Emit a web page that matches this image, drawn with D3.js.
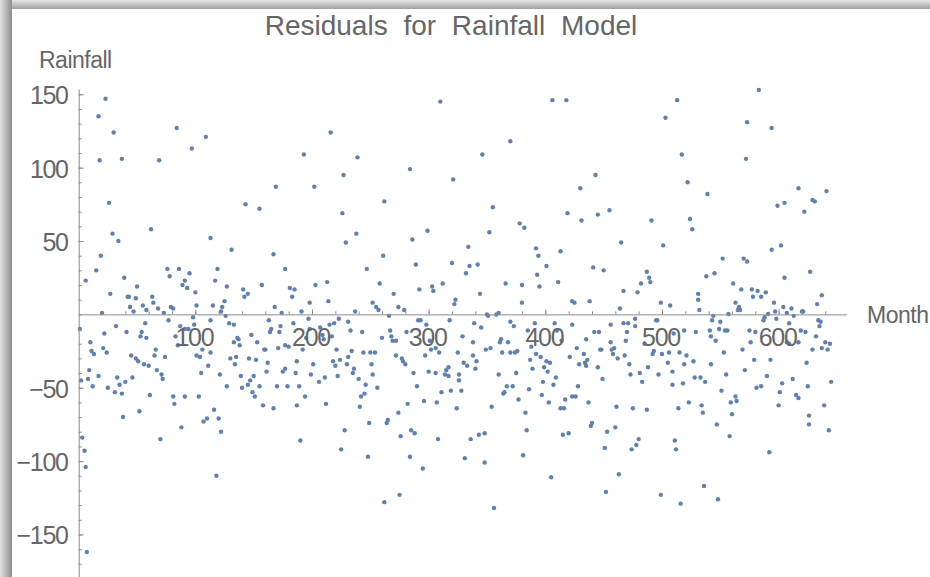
<!DOCTYPE html>
<html>
<head>
<meta charset="utf-8">
<script src="https://cdn.jsdelivr.net/npm/d3@7"></script>
<style>
  body { margin: 0; background: #fff; }
  text { font-family: "Liberation Sans", Arial, sans-serif; fill: #666; }
</style>
</head>
<body>
<svg id="chart" width="930" height="577"></svg>
<script>
// [month, residual]
const residualData = [
  [23,147],[17,135],[30,124],[84,127],[109,121],[97,113],[18,105],[37,106],[69,105],[26,76],[29,55],[34,50],[62,58],[113,52],[19,40],[15,30],[6,23],[39,25],[76,31],[78,26],[86,31],[95,28],[91,23],[89,20],[93,18],[119,31],[117,23],[127,19],[27,14],[50,19],[42,12],[43,12],[49,11],[63,12],[64,8],[44,5],[55,6],[47,2],[58,3],[68,4],[73,1],[79,5],[81,4],[100,15],[101,6],[115,6],[125,9],[123,5],[122,2],[20,1],
  [1,-10],[22,-13],[32,-8],[41,-12],[57,-6],[53,-15],[54,-12],[58,-16],[77,-4],[87,-8],[91,-10],[94,-10],[99,-7],[98,-2],[113,-4],[126,-1],[10,-19],[11,-25],[13,-27],[21,-23],[24,-26],[45,-28],[49,-30],[51,-32],[56,-34],[60,-35],[66,-24],[65,-28],[74,-29],[85,-21],[83,-15],[101,-28],[104,-29],[106,-24],[113,-26],[111,-35],[105,-40],[9,-38],[2,-45],[8,-44],[12,-49],[17,-42],[25,-50],[33,-43],[35,-48],[31,-53],[37,-54],[40,-46],[46,-43],[67,-38],[71,-41],[72,-44],[61,-55],[52,-66],[38,-70],[81,-56],[82,-61],[91,-56],[103,-56],[88,-77],[116,-65],[110,-71],[107,-73],[120,-71],[122,-80],[121,-41],[127,-49],[70,-85],[3,-84],[5,-93],[6,-104],[118,-110],[7,-162],
  [216,124],[193,109],[239,107],[227,95],[169,87],[202,87],[143,75],[155,72],[226,69],[238,55],[229,49],[131,44],[167,41],[177,31],[247,31],[141,17],[145,14],[142,12],[157,20],[181,18],[185,17],[183,12],[203,20],[213,22],[214,9],[198,8],[168,5],[174,1],[191,2],[237,2],[252,8],[255,5],[257,3],[258,21],
  [129,-6],[133,-7],[163,-4],[197,-3],[165,-10],[164,-12],[173,-8],[172,-12],[184,-6],[148,-14],[136,-16],[137,-17],[133,-19],[138,-21],[153,-19],[159,-24],[160,-24],[171,-23],[177,-21],[180,-22],[192,-24],[198,-10],[195,-16],[207,-9],[209,-14],[210,-17],[215,-7],[219,-6],[223,-3],[217,-15],[231,-5],[233,-11],[243,-12],[130,-30],[135,-29],[134,-34],[146,-30],[152,-31],[162,-33],[161,-39],[175,-39],[177,-37],[187,-32],[186,-40],[201,-34],[199,-41],[218,-32],[220,-35],[221,-24],[224,-31],[231,-29],[230,-34],[234,-25],[236,-37],[235,-40],[244,-26],[250,-26],[254,-26],[251,-34],[252,-41],[139,-42],[140,-50],[145,-48],[147,-45],[150,-42],[149,-53],[151,-56],[155,-49],[158,-62],[167,-64],[170,-49],[179,-49],[189,-49],[194,-56],[187,-62],[206,-46],[211,-43],[212,-61],[222,-42],[240,-44],[246,-48],[245,-54],[242,-56],[241,-63],[256,-50],[249,-74],[228,-79],[225,-92],[248,-97],[190,-86],
  [310,145],[370,118],[346,109],[284,99],[321,92],[262,77],[355,73],[378,62],[382,59],[299,57],[352,56],[286,51],[334,46],[261,40],[289,34],[320,35],[335,33],[342,34],[332,28],[270,14],[292,17],[303,19],[304,16],[312,21],[344,14],[366,21],[380,20],[323,10],[322,7],[274,5],[279,3],[380,8],[360,1],
  [266,-1],[291,-4],[293,-4],[298,-7],[318,-4],[339,-6],[345,-9],[350,-0.1],[351,-1],[358,-0.1],[370,-5],[373,-8],[385,-11],[267,-11],[260,-16],[268,-15],[269,-18],[272,-18],[281,-12],[301,-18],[302,-24],[306,-23],[309,-26],[297,-28],[272,-28],[277,-30],[278,-32],[280,-34],[287,-40],[300,-39],[306,-40],[314,-41],[315,-38],[317,-36],[317,-42],[329,-15],[325,-26],[330,-33],[333,-35],[338,-19],[338,-28],[341,-32],[340,-37],[326,-41],[326,-45],[349,-24],[353,-23],[361,-19],[362,-17],[368,-19],[363,-26],[370,-26],[374,-26],[376,-25],[360,-41],[375,-40],[387,-31],[388,-22],[389,-37],[290,-49],[296,-59],[282,-61],[274,-67],[265,-72],[264,-74],[276,-83],[285,-79],[288,-81],[307,-60],[311,-53],[319,-52],[328,-52],[324,-64],[308,-85],[284,-97],[295,-105],[336,-85],[331,-98],[343,-82],[348,-81],[348,-101],[354,-63],[364,-54],[365,-53],[367,-49],[372,-49],[377,-58],[386,-51],[383,-67],[384,-79],[381,-96],[262,-128],[275,-123],[356,-132],
  [406,146],[418,146],[513,146],[503,134],[517,109],[443,95],[430,86],[419,69],[431,64],[445,68],[455,71],[491,64],[465,49],[501,47],[392,45],[394,40],[413,43],[401,33],[393,27],[395,19],[411,22],[441,32],[450,30],[487,29],[489,25],[490,22],[482,21],[479,15],[467,16],[423,9],[425,8],[438,9],[499,8],[507,6],[464,4],
  [391,-6],[408,-6],[423,-7],[410,-11],[414,-18],[392,-27],[396,-29],[401,-32],[404,-33],[399,-36],[402,-39],[398,-46],[407,-48],[409,-43],[397,-55],[403,-60],[417,-58],[413,-64],[416,-64],[421,-29],[427,-23],[429,-34],[433,-27],[435,-17],[436,-31],[434,-33],[435,-35],[428,-49],[426,-56],[423,-56],[437,-60],[442,-12],[446,-12],[456,-7],[456,-19],[447,-24],[448,-24],[445,-36],[449,-44],[457,-24],[459,-23],[458,-27],[462,-30],[467,-6],[471,-6],[470,-12],[469,-18],[477,-3],[477,-8],[468,-28],[472,-34],[473,-41],[481,-40],[483,-46],[488,-36],[492,-27],[493,-25],[485,-20],[495,-4],[496,-4],[500,-27],[497,-41],[505,-33],[506,-26],[509,-39],[510,-13],[515,-26],[519,-11],[519,-34],[509,-48],[518,-47],[514,-64],[461,-63],[475,-64],[487,-65],[460,-77],[453,-80],[440,-74],[439,-76],[415,-82],[420,-81],[451,-91],[480,-85],[478,-89],[474,-92],[511,-86],[512,-92],[405,-111],[463,-109],[452,-121],[499,-123],[516,-129],
  [583,153],[573,131],[594,127],[572,106],[522,90],[539,82],[617,86],[641,84],[599,74],[605,76],[629,78],[631,77],[622,70],[524,65],[526,58],[594,44],[602,47],[552,38],[570,38],[573,36],[538,26],[545,28],[605,25],[627,29],[561,21],[531,14],[531,10],[568,17],[577,17],[578,12],[582,16],[585,12],[589,15],[637,13],[563,8],[566,5],[565,3],[567,3],[596,8],[633,7],[532,3],[557,0.3],[597,2],[604,5],[607,1],[611,4],[620,2],[621,2],[591,0.2],
  [544,-1],[543,-4],[588,-2],[587,-4],[598,-3],[613,-1],[634,-4],[636,-5],[635,-8],[550,-5],[549,-10],[554,-11],[556,-11],[541,-11],[542,-15],[546,-18],[529,-12],[553,-26],[521,-28],[527,-32],[542,-34],[575,-11],[580,-12],[576,-19],[569,-24],[579,-31],[571,-38],[593,-31],[590,-42],[581,-50],[585,-49],[609,-6],[607,-19],[609,-20],[617,-19],[619,-11],[623,-12],[632,-15],[640,-19],[644,-20],[637,-23],[642,-24],[629,-24],[624,-33],[612,-44],[603,-47],[601,-53],[615,-55],[617,-57],[600,-62],[625,-49],[645,-46],[639,-62],[626,-69],[626,-75],[643,-79],[592,-94],[528,-43],[533,-43],[537,-46],[555,-41],[551,-52],[523,-60],[534,-62],[535,-67],[559,-60],[563,-56],[564,-59],[560,-68],[547,-75],[558,-83],[536,-117],[548,-126]
];

const xMajorTicks = [100, 200, 300, 400, 500, 600];
const xMinorTicks = d3.range(20, 660, 20);
const yMajorTicks = [-150, -100, -50, 50, 100, 150];
const yMinorTicks = d3.range(-170, 160, 10);

const titleText = "Residuals for Rainfall Model";
const xLabel = "Month";
const yLabel = "Rainfall";

const svg = d3.select("#chart");
const width = +svg.attr("width");
const height = +svg.attr("height");

// window-style shadow on the top and left edge
const defs = svg.append("defs");
const gl = defs.append("linearGradient").attr("id", "shadowLeft")
  .attr("x1", 0).attr("x2", 1).attr("y1", 0).attr("y2", 0);
gl.append("stop").attr("offset", "0%").attr("stop-color", "#e2e2e2");
gl.append("stop").attr("offset", "100%").attr("stop-color", "#8e8e8e");
const gt = defs.append("linearGradient").attr("id", "shadowTop")
  .attr("x1", 0).attr("x2", 0).attr("y1", 0).attr("y2", 1);
gt.append("stop").attr("offset", "0%").attr("stop-color", "#e6e6e6");
gt.append("stop").attr("offset", "100%").attr("stop-color", "#a0a0a0");

svg.append("rect").attr("x", 0).attr("y", 0).attr("width", width).attr("height", 9)
  .attr("fill", "url(#shadowTop)");
svg.append("rect").attr("x", 0).attr("y", 0).attr("width", 12).attr("height", height)
  .attr("fill", "url(#shadowLeft)");
svg.append("rect").attr("x", 12).attr("y", 9).attr("width", width).attr("height", height)
  .attr("fill", "#fff");

const x = d3.scaleLinear().domain([0, 658]).range([78.7, 846.3]);
const y = d3.scaleLinear().domain([-179, 153.6]).range([577, 89]);

// points
svg.append("g")
  .selectAll("circle")
  .data(residualData)
  .enter()
  .append("circle")
  .attr("cx", d => x(d[0]))
  .attr("cy", d => y(d[1]))
  .attr("r", 2.2)
  .attr("fill", "#5E81B5");

const axisColor = "#8c8c8c";

// x axis (drawn at y = 0, ticks pointing up)
const xMinor = svg.append("g")
  .attr("transform", `translate(0,${y(0)})`)
  .call(d3.axisBottom(x).tickValues(xMinorTicks).tickSizeInner(-3).tickSizeOuter(0).tickFormat(""));
xMinor.select(".domain").attr("stroke", axisColor);
xMinor.selectAll(".tick line").attr("stroke", axisColor);

const xMajor = svg.append("g")
  .attr("transform", `translate(0,${y(0)})`)
  .call(d3.axisBottom(x).tickValues(xMajorTicks).tickSizeInner(-5).tickSizeOuter(0).tickPadding(14));
xMajor.select(".domain").remove();
xMajor.selectAll(".tick line").attr("stroke", axisColor);
xMajor.selectAll(".tick text")
  .attr("x", -1.5)
  .style("font-size", "25px")
  .style("letter-spacing", "-1.3px")
  .style("font-family", "'Liberation Sans', Arial, sans-serif")
  .attr("fill", "#666");

// y axis (at month 0, ticks pointing right)
const yMinor = svg.append("g")
  .attr("transform", `translate(${x(0)},0)`)
  .call(d3.axisLeft(y).tickValues(yMinorTicks).tickSizeInner(-3).tickSizeOuter(0).tickFormat(""));
yMinor.select(".domain").attr("stroke", axisColor);
yMinor.selectAll(".tick line").attr("stroke", axisColor);

const yMajor = svg.append("g")
  .attr("transform", `translate(${x(0)},0)`)
  .call(d3.axisLeft(y).tickValues(yMajorTicks).tickSizeInner(-5).tickSizeOuter(0).tickPadding(11));
yMajor.select(".domain").remove();
yMajor.selectAll(".tick line").attr("stroke", axisColor);
yMajor.selectAll(".tick text")
  .attr("dy", "0.38em")
  .style("font-size", "25px")
  .style("letter-spacing", "-1.3px")
  .style("font-family", "'Liberation Sans', Arial, sans-serif")
  .attr("fill", "#666");

// labels
svg.append("text")
  .attr("x", 451)
  .attr("y", 35)
  .attr("text-anchor", "middle")
  .style("font-size", "28px")
  .style("word-spacing", "8px")
  .text(titleText);

svg.append("text")
  .attr("x", 39)
  .attr("y", 68)
  .style("font-size", "23px")
  .style("letter-spacing", "-0.5px")
  .text(yLabel);

svg.append("text")
  .attr("x", 867)
  .attr("y", 323)
  .style("font-size", "23px")
  .style("letter-spacing", "-0.5px")
  .text(xLabel);
</script>
</body>
</html>
